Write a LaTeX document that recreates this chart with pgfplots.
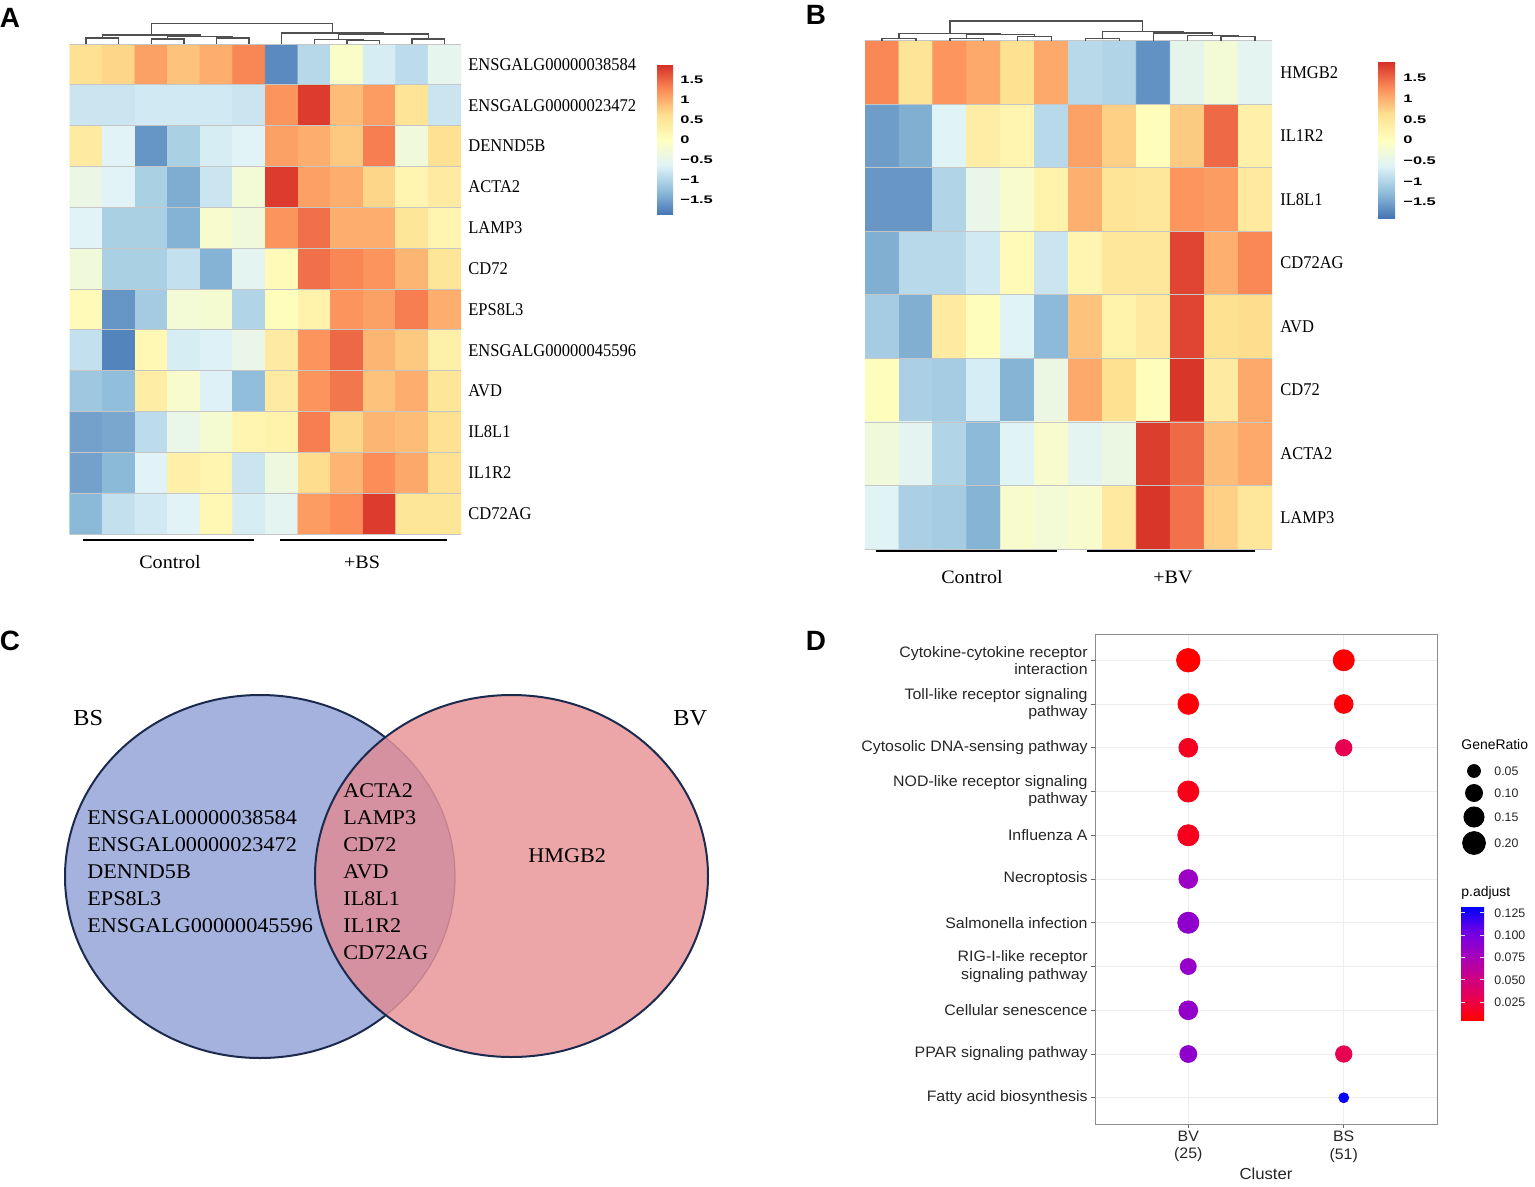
\documentclass[border=0pt]{standalone}
\usepackage{pgfplots}
\pgfplotsset{compat=1.18}
\usepackage{fontspec}
\setmainfont{Liberation Serif}
\newfontfamily\hmfont[FakeStretch=0.92]{Liberation Serif}
\newfontfamily\vnfont[FakeStretch=1.06]{Liberation Serif}
\newfontfamily\dpfont[FakeStretch=1.05]{Liberation Sans}
\newfontfamily\cbfont[FakeStretch=1.5]{Liberation Sans}
\newfontfamily\lbfont{Liberation Sans}

\definecolor{vleft}{RGB}{166,178,222}
\definecolor{vright}{RGB}{236,166,168}
\definecolor{vover}{RGB}{214,145,160}
\definecolor{vline}{RGB}{28,42,78}
\definecolor{varc}{RGB}{196,128,142}
\definecolor{dgray}{RGB}{80,80,80}
\definecolor{hm1}{RGB}{69,117,180}
\definecolor{hm2}{RGB}{145,191,219}
\definecolor{hm3}{RGB}{224,243,248}
\definecolor{hm4}{RGB}{255,255,191}
\definecolor{hm5}{RGB}{254,224,144}
\definecolor{hm6}{RGB}{252,141,89}
\definecolor{hm7}{RGB}{215,48,39}
\definecolor{pa1}{RGB}{255,0,0}
\definecolor{pa2}{RGB}{232,0,82}
\definecolor{pa3}{RGB}{200,0,140}
\definecolor{pa4}{RGB}{158,0,195}
\definecolor{pa5}{RGB}{105,0,232}
\definecolor{pa6}{RGB}{0,0,255}

\pgfdeclareverticalshading{rdylbu}{100bp}{color(0bp)=(hm1); color(25bp)=(hm1); color(33.333bp)=(hm2);
  color(41.667bp)=(hm3); color(50bp)=(hm4); color(58.333bp)=(hm5); color(66.667bp)=(hm6);
  color(75bp)=(hm7); color(100bp)=(hm7)}
\pgfdeclareverticalshading{padjshade}{100bp}{color(0bp)=(pa1); color(25bp)=(pa1); color(35bp)=(pa2);
  color(45bp)=(pa3); color(55bp)=(pa4); color(65bp)=(pa5); color(75bp)=(pa6); color(100bp)=(pa6)}

\pgfplotsset{
  colormap={rdylbu}{rgb255(0cm)=(69,117,180); rgb255(1cm)=(145,191,219); rgb255(2cm)=(224,243,248);
    rgb255(3cm)=(255,255,191); rgb255(4cm)=(254,224,144); rgb255(5cm)=(252,141,89); rgb255(6cm)=(215,48,39)},
  colormap={padj}{rgb255(0cm)=(255,0,0); rgb255(1cm)=(232,0,82); rgb255(2cm)=(200,0,140);
    rgb255(3cm)=(158,0,195); rgb255(4cm)=(105,0,232); rgb255(5cm)=(0,0,255)},
  heat/.style={scale only axis, anchor=north west, enlargelimits=false, axis on top,
    xmin=0.5, xmax=12.5, ymin=0.5, y dir=reverse,
    axis line style={draw=none}, major tick length=0pt, minor tick length=0pt,
    xtick=\empty, yticklabel pos=right,
    yticklabel style={font=\hmfont\fontsize{9}{9}\selectfont, inner sep=0pt, anchor=west},
    minor xtick={0.5,1.5,...,12.5},
    xminorgrids=true, yminorgrids=true, minor grid style={gray!45, line width=0.35bp},
    colormap name=rdylbu},
  cbar/.style={scale only axis, anchor=north west, xmin=0, xmax=1, enlargelimits=false,
    axis line style={draw=none}, major tick length=0pt, xtick=\empty, yticklabel pos=right,
    ytick={-1.5,-1,-0.5,0,0.5,1,1.5},
    yticklabels={−1.5,−1,−0.5,0,0.5,1,1.5},
    yticklabel style={font=\cbfont\bfseries\fontsize{5.5}{5.5}\selectfont, inner sep=0pt, anchor=west}},
  dendro/.style={scale only axis, anchor=south west, hide axis, clip=false,
    xmin=0.5, xmax=12.5, ymin=0},
  dl/.style={dgray, line width=0.7bp},
}

\begin{document}
\begin{tikzpicture}
\path[use as bounding box] (0,0) rectangle (767.5bp,-593.5bp);

% ---------------- A ----------------
\begin{axis}[heat, at={(34.85bp,-22bp)}, width=195.65bp, height=245bp, ymax=12.5,
  ytick={1,...,12}, minor ytick={0.5,1.5,...,12.5},
  yticklabels={ENSGALG00000038584,ENSGALG00000023472,DENND5B,ACTA2,LAMP3,CD72,EPS8L3,ENSGALG00000045596,AVD,IL8L1,IL1R2,CD72AG},
  yticklabel style={xshift=3.5bp},
  point meta min=-1.875, point meta max=1.875]
\addplot[matrix plot*, mesh/cols=12, point meta=explicit] table[row sep=\\, meta=z] {
x y z\\
1 1 0.6\\ 2 1 0.7\\ 3 1 1.1\\ 4 1 0.85\\ 5 1 1.0\\ 6 1 1.3\\ 7 1 -1.7\\ 8 1 -0.95\\ 9 1 -0.1\\ 10 1 -0.7\\ 11 1 -0.9\\ 12 1 -0.5\\
1 2 -0.8\\ 2 2 -0.8\\ 3 2 -0.75\\ 4 2 -0.75\\ 5 2 -0.75\\ 6 2 -0.8\\ 7 2 1.2\\ 8 2 1.8\\ 9 2 0.9\\ 10 2 1.15\\ 11 2 0.55\\ 12 2 -0.8\\
1 3 0.4\\ 2 3 -0.6\\ 3 3 -1.6\\ 4 3 -1.05\\ 5 3 -0.7\\ 6 3 -0.6\\ 7 3 1.1\\ 8 3 1.0\\ 9 3 0.8\\ 10 3 1.35\\ 11 3 -0.3\\ 12 3 0.6\\
1 4 -0.4\\ 2 4 -0.6\\ 3 4 -1.05\\ 4 4 -1.4\\ 5 4 -0.8\\ 6 4 -0.25\\ 7 4 1.8\\ 8 4 1.1\\ 9 4 1.0\\ 10 4 0.7\\ 11 4 0.2\\ 12 4 0.4\\
1 5 -0.6\\ 2 5 -1.05\\ 3 5 -1.05\\ 4 5 -1.35\\ 5 5 -0.15\\ 6 5 -0.3\\ 7 5 1.2\\ 8 5 1.45\\ 9 5 1.0\\ 10 5 1.0\\ 11 5 0.5\\ 12 5 0.2\\
1 6 -0.3\\ 2 6 -1.05\\ 3 6 -1.05\\ 4 6 -0.85\\ 5 6 -1.35\\ 6 6 -0.55\\ 7 6 0.1\\ 8 6 1.45\\ 9 6 1.3\\ 10 6 1.2\\ 11 6 0.95\\ 12 6 0.5\\
1 7 0.1\\ 2 7 -1.6\\ 3 7 -1.1\\ 4 7 -0.25\\ 5 7 -0.2\\ 6 7 -1.0\\ 7 7 0.05\\ 8 7 0.25\\ 9 7 1.2\\ 10 7 1.1\\ 11 7 1.35\\ 12 7 1.0\\
1 8 -0.85\\ 2 8 -1.75\\ 3 8 0.15\\ 4 8 -0.7\\ 5 8 -0.65\\ 6 8 -0.45\\ 7 8 0.4\\ 8 8 1.2\\ 9 8 1.5\\ 10 8 0.95\\ 11 8 0.8\\ 12 8 0.3\\
1 9 -1.15\\ 2 9 -1.25\\ 3 9 0.35\\ 4 9 -0.15\\ 5 9 -0.65\\ 6 9 -1.25\\ 7 9 0.4\\ 8 9 1.2\\ 9 9 1.4\\ 10 9 0.85\\ 11 9 1.0\\ 12 9 0.5\\
1 10 -1.5\\ 2 10 -1.45\\ 3 10 -0.9\\ 4 10 -0.45\\ 5 10 -0.2\\ 6 10 0.2\\ 7 10 0.25\\ 8 10 1.35\\ 9 10 0.7\\ 10 10 0.95\\ 11 10 0.9\\ 12 10 0.6\\
1 11 -1.5\\ 2 11 -1.3\\ 3 11 -0.6\\ 4 11 0.3\\ 5 11 0.2\\ 6 11 -0.8\\ 7 11 -0.35\\ 8 11 0.65\\ 9 11 0.95\\ 10 11 1.25\\ 11 11 1.05\\ 12 11 0.6\\
1 12 -1.3\\ 2 12 -0.85\\ 3 12 -0.75\\ 4 12 -0.6\\ 5 12 0.15\\ 6 12 -0.7\\ 7 12 -0.55\\ 8 12 1.15\\ 9 12 1.25\\ 10 12 1.8\\ 11 12 0.5\\ 12 12 0.5\\
};
\end{axis}

\begin{axis}[cbar, at={(328.5bp,-32.5bp)}, width=8bp, height=75bp, ymin=-1.875, ymax=1.875,
  yticklabel style={xshift=3.5bp}]
\shade[shading=rdylbu] (axis cs:0,-1.875) rectangle (axis cs:1,1.875);
\end{axis}

\begin{axis}[dendro, at={(34.85bp,-22bp)}, width=195.65bp, height=10.35bp, ymax=20.7]
\addplot[dl] coordinates {(1,0) (1,6) (2,6) (2,0)};
\addplot[dl] coordinates {(3,0) (3,5) (4,5) (4,0)};
\addplot[dl] coordinates {(5,0) (5,6) (6,6) (6,0)};
\addplot[dl] coordinates {(3.5,5) (3.5,7.7) (5.5,7.7) (5.5,6)};
\addplot[dl] coordinates {(1.5,6) (1.5,9) (4.5,9) (4.5,7.7)};
\addplot[dl] coordinates {(9,0) (9,3.5) (10,3.5) (10,0)};
\addplot[dl] coordinates {(8,0) (8,4.5) (9.5,4.5) (9.5,3.5)};
\addplot[dl] coordinates {(11,0) (11,5) (12,5) (12,0)};
\addplot[dl] coordinates {(8.75,4.5) (8.75,10) (11.5,10) (11.5,5)};
\addplot[dl] coordinates {(7,0) (7,11) (10.125,11) (10.125,10)};
\addplot[dl] coordinates {(3,9) (3,20.7) (8.5625,20.7) (8.5625,11)};
\end{axis}

\draw[line width=1bp] (41.5bp,-270bp) -- (127bp,-270bp);
\draw[line width=1bp] (140bp,-270bp) -- (223.5bp,-270bp);
\node[font=\vnfont\fontsize{9.5}{9.5}\selectfont] at (85bp,-281bp) {Control};
\node[font=\vnfont\fontsize{9.5}{9.5}\selectfont] at (181bp,-281bp) {+BS};

% ---------------- B ----------------
\begin{axis}[heat, at={(432.5bp,-20.25bp)}, width=203.5bp, height=254.25bp, ymax=8.5,
  ytick={1,...,8}, minor ytick={0.5,1.5,...,8.5},
  yticklabels={HMGB2,IL1R2,IL8L1,CD72AG,AVD,CD72,ACTA2,LAMP3},
  yticklabel style={xshift=4bp},
  point meta min=-1.89, point meta max=1.89]
\addplot[matrix plot*, mesh/cols=12, point meta=explicit] table[row sep=\\, meta=z] {
x y z\\
1 1 1.3\\ 2 1 0.55\\ 3 1 1.2\\ 4 1 1.05\\ 5 1 0.6\\ 6 1 1.05\\ 7 1 -0.95\\ 8 1 -1.0\\ 9 1 -1.65\\ 10 1 -0.5\\ 11 1 -0.25\\ 12 1 -0.55\\
1 2 -1.55\\ 2 2 -1.4\\ 3 2 -0.6\\ 4 2 0.35\\ 5 2 0.2\\ 6 2 -0.95\\ 7 2 1.1\\ 8 2 0.75\\ 9 2 0.05\\ 10 2 0.8\\ 11 2 1.5\\ 12 2 0.3\\
1 3 -1.6\\ 2 3 -1.6\\ 3 3 -1.0\\ 4 3 -0.45\\ 5 3 -0.15\\ 6 3 0.25\\ 7 3 1.0\\ 8 3 0.55\\ 9 3 0.5\\ 10 3 1.2\\ 11 3 1.15\\ 12 3 0.45\\
1 4 -1.4\\ 2 4 -0.95\\ 3 4 -0.95\\ 4 4 -0.75\\ 5 4 0.1\\ 6 4 -0.8\\ 7 4 0.2\\ 8 4 0.5\\ 9 4 0.5\\ 10 4 1.75\\ 11 4 1.0\\ 12 4 1.3\\
1 5 -1.1\\ 2 5 -1.4\\ 3 5 0.4\\ 4 5 0.05\\ 5 5 -0.6\\ 6 5 -1.3\\ 7 5 0.85\\ 8 5 0.25\\ 9 5 0.45\\ 10 5 1.75\\ 11 5 0.6\\ 12 5 0.65\\
1 6 0.05\\ 2 6 -1.05\\ 3 6 -1.1\\ 4 6 -0.7\\ 5 6 -1.35\\ 6 6 -0.4\\ 7 6 1.05\\ 8 6 0.6\\ 9 6 0.05\\ 10 6 1.85\\ 11 6 0.4\\ 12 6 1.05\\
1 7 -0.3\\ 2 7 -0.55\\ 3 7 -1.0\\ 4 7 -1.3\\ 5 7 -0.6\\ 6 7 -0.15\\ 7 7 -0.55\\ 8 7 -0.4\\ 9 7 1.8\\ 10 7 1.5\\ 11 7 0.9\\ 12 7 1.05\\
1 8 -0.6\\ 2 8 -1.05\\ 3 8 -1.1\\ 4 8 -1.35\\ 5 8 -0.15\\ 6 8 -0.25\\ 7 8 -0.15\\ 8 8 0.45\\ 9 8 1.85\\ 10 8 1.45\\ 11 8 0.75\\ 12 8 0.5\\
};
\end{axis}

\begin{axis}[cbar, at={(689bp,-31bp)}, width=8.5bp, height=78bp, ymin=-1.89, ymax=1.89,
  yticklabel style={xshift=4bp}]
\shade[shading=rdylbu] (axis cs:0,-1.89) rectangle (axis cs:1,1.89);
\end{axis}

\begin{axis}[dendro, at={(432.5bp,-20.25bp)}, width=203.5bp, height=9.75bp, ymax=19.5]
\addplot[dl] coordinates {(1,0) (1,2) (2,2) (2,0)};
\addplot[dl] coordinates {(3,0) (3,2.3) (4,2.3) (4,0)};
\addplot[dl] coordinates {(5,0) (5,4.3) (6,4.3) (6,0)};
\addplot[dl] coordinates {(3.5,2.3) (3.5,6) (5.5,6) (5.5,4.3)};
\addplot[dl] coordinates {(1.5,2) (1.5,7.3) (4.5,7.3) (4.5,6)};
\addplot[dl] coordinates {(7,0) (7,2.3) (8,2.3) (8,0)};
\addplot[dl] coordinates {(11,0) (11,4) (12,4) (12,0)};
\addplot[dl] coordinates {(10,0) (10,5.3) (11.5,5.3) (11.5,4)};
\addplot[dl] coordinates {(9,0) (9,7.7) (10.75,7.7) (10.75,5.3)};
\addplot[dl] coordinates {(7.5,2.3) (7.5,9.3) (9.875,9.3) (9.875,7.7)};
\addplot[dl] coordinates {(3,7.3) (3,19.5) (8.6875,19.5) (8.6875,9.3)};
\end{axis}

\draw[line width=1bp] (438bp,-275.5bp) -- (528.5bp,-275.5bp);
\draw[line width=1bp] (543.5bp,-275.5bp) -- (627.5bp,-275.5bp);
\node[font=\vnfont\fontsize{9.5}{9.5}\selectfont] at (486bp,-288.5bp) {Control};
\node[font=\vnfont\fontsize{9.5}{9.5}\selectfont] at (586.5bp,-288.5bp) {+BV};

% ---------------- C (Venn) ----------------
\fill[vleft] (130bp,-438.25bp) ellipse [x radius=97.5bp, y radius=90.75bp];
\fill[vright] (255.75bp,-438bp) ellipse [x radius=98.25bp, y radius=90.5bp];
\begin{scope}
  \clip (130bp,-438.25bp) ellipse [x radius=97.5bp, y radius=90.75bp];
  \fill[vover] (255.75bp,-438bp) ellipse [x radius=98.25bp, y radius=90.5bp];
\end{scope}
\begin{scope}
  \clip (255.75bp,-438bp) ellipse [x radius=98.25bp, y radius=90.5bp];
  \draw[varc, line width=0.6bp] (130bp,-438.25bp) ellipse [x radius=97.5bp, y radius=90.75bp];
\end{scope}
\begin{scope}[even odd rule]
  \clip (255.75bp,-438bp) ellipse [x radius=98.25bp, y radius=90.5bp] (0,0) rectangle (767.5bp,-593.5bp);
  \draw[vline, line width=1bp] (130bp,-438.25bp) ellipse [x radius=97.5bp, y radius=90.75bp];
\end{scope}
\draw[vline, line width=1bp] (255.75bp,-438bp) ellipse [x radius=98.25bp, y radius=90.5bp];

\begin{scope}[every node/.style={font=\vnfont\fontsize{10.5}{10.5}\selectfont, anchor=west, inner sep=0pt}]
\node at (43.5bp,-409bp) {ENSGAL00000038584};
\node at (43.5bp,-422.5bp) {ENSGAL00000023472};
\node at (43.5bp,-436bp) {DENND5B};
\node at (43.5bp,-449.5bp) {EPS8L3};
\node at (43.5bp,-463bp) {ENSGALG00000045596};
\node at (171.5bp,-395.5bp) {ACTA2};
\node at (171.5bp,-409bp) {LAMP3};
\node at (171.5bp,-422.5bp) {CD72};
\node at (171.5bp,-436bp) {AVD};
\node at (171.5bp,-449.5bp) {IL8L1};
\node at (171.5bp,-463bp) {IL1R2};
\node at (171.5bp,-476.5bp) {CD72AG};
\node at (264bp,-428bp) {HMGB2};
\end{scope}
\node[font=\vnfont\fontsize{11.5}{11.5}\selectfont, anchor=west, inner sep=0pt] at (36.5bp,-359bp) {BS};
\node[font=\vnfont\fontsize{11.5}{11.5}\selectfont, anchor=west, inner sep=0pt] at (336.5bp,-359bp) {BV};

% ---------------- D (dot plot) ----------------
\begin{axis}[at={(547.5bp,-317bp)}, anchor=north west, scale only axis,
  width=171bp, height=245bp,
  xmin=0.4, xmax=2.6, ymin=0.4, ymax=11.6, y dir=reverse,
  xtick={1,2}, xticklabels={{BV\\(25)},{BS\\(51)}},
  ytick={1,...,11},
  yticklabels={{Cytokine-cytokine receptor\\interaction},{Toll-like receptor signaling\\pathway},
    {Cytosolic DNA-sensing pathway},{NOD-like receptor signaling\\pathway},{Influenza A},
    {Necroptosis},{Salmonella infection},{RIG-I-like receptor\\signaling pathway},
    {Cellular senescence},{PPAR signaling pathway},{Fatty acid biosynthesis}},
  tick pos=left, tick align=outside, major tick length=2bp,
  tick style={black!60, line width=0.4bp},
  yticklabel style={font=\dpfont\fontsize{7.6}{8.6}\selectfont, align=right, text=black!85, inner sep=1.5bp},
  xticklabel style={font=\dpfont\fontsize{7.6}{8.6}\selectfont, align=center, text=black!85, inner sep=1.5bp},
  xlabel={Cluster}, xlabel style={font=\dpfont\fontsize{8}{8}\selectfont, text=black!85, inner sep=1bp},
  grid=major, major grid style={gray!14, line width=0.5bp},
  axis line style={black!45, line width=0.5bp},
  colormap name=padj, point meta min=0.0048, point meta max=0.1317]
\addplot[scatter, only marks, mark=*, point meta=\thisrow{p},
  scatter/use mapped color={draw=mapped color, fill=mapped color},
  visualization depends on={0.5*(1.5+22.36*sqrt(\thisrow{g}))\as\msize},
  scatter/@pre marker code/.append style={/tikz/mark size=\msize}]
  table[row sep=\\] {
x y g p\\
1 1 0.212 0.005\\
1 2 0.158 0.007\\
1 3 0.126 0.015\\
1 4 0.166 0.012\\
1 5 0.166 0.014\\
1 6 0.126 0.082\\
1 7 0.166 0.088\\
1 8 0.085 0.084\\
1 9 0.126 0.086\\
1 10 0.098 0.088\\
2 1 0.166 0.005\\
2 2 0.125 0.007\\
2 3 0.091 0.030\\
2 10 0.091 0.030\\
2 11 0.0245 0.130\\
};
\end{axis}

% p.adjust colour bar
\begin{axis}[at={(730.5bp,-453.5bp)}, anchor=north west, scale only axis, width=11.5bp, height=56.5bp,
  xmin=0, xmax=1, ymin=0.0048, ymax=0.1317, enlargelimits=false,
  axis line style={draw=none}, xtick=\empty, axis on top,
  ytick={0.025,0.05,0.075,0.1,0.125}, yticklabels={0.025,0.050,0.075,0.100,0.125},
  tick align=inside, major tick length=2bp, ytick style={white!85!black, line width=0.5bp},
  yticklabel pos=right,
  yticklabel style={font=\lbfont\fontsize{6.2}{6.2}\selectfont, text=black!85, inner sep=0pt, anchor=west, xshift=5bp}]
\shade[shading=padjshade] (axis cs:0,0.0048) rectangle (axis cs:1,0.1317);
\end{axis}

% GeneRatio legend
\begin{axis}[at={(720bp,-370bp)}, anchor=north west, scale only axis, width=47.5bp, height=60bp,
  xmin=1440, xmax=1535, ymin=740, ymax=860, y dir=reverse, hide axis, clip=false]
\addplot[scatter, only marks, mark=*, point meta=\thisrow{g},
  scatter/use mapped color={draw=black, fill=black},
  visualization depends on={0.5*(1.5+22.36*sqrt(\thisrow{g}))\as\msize},
  scatter/@pre marker code/.append style={/tikz/mark size=\msize}]
  table[row sep=\\] {
x y g\\
1474 771 0.05\\
1474 793 0.10\\
1474 817 0.15\\
1474 843 0.20\\
};
\node[font=\lbfont\fontsize{6.2}{6.2}\selectfont, anchor=west, inner sep=0pt, text=black!85] at (axis cs:1494,771) {0.05};
\node[font=\lbfont\fontsize{6.2}{6.2}\selectfont, anchor=west, inner sep=0pt, text=black!85] at (axis cs:1494,793) {0.10};
\node[font=\lbfont\fontsize{6.2}{6.2}\selectfont, anchor=west, inner sep=0pt, text=black!85] at (axis cs:1494,817) {0.15};
\node[font=\lbfont\fontsize{6.2}{6.2}\selectfont, anchor=west, inner sep=0pt, text=black!85] at (axis cs:1494,843) {0.20};
\end{axis}
\node[font=\lbfont\fontsize{7}{7}\selectfont, anchor=west, inner sep=0pt] at (730.5bp,-372.5bp) {GeneRatio};
\node[font=\lbfont\fontsize{7}{7}\selectfont, anchor=west, inner sep=0pt] at (730.5bp,-446.5bp) {p.adjust};

% panel letters
\begin{scope}[every node/.style={font=\lbfont\bfseries\fontsize{14}{14}\selectfont, inner sep=0pt}]
\node at (5bp,-9bp) {A};
\node at (408bp,-7.5bp) {B};
\node at (5bp,-320.5bp) {C};
\node at (408bp,-320.5bp) {D};
\end{scope}
\end{tikzpicture}
\end{document}
